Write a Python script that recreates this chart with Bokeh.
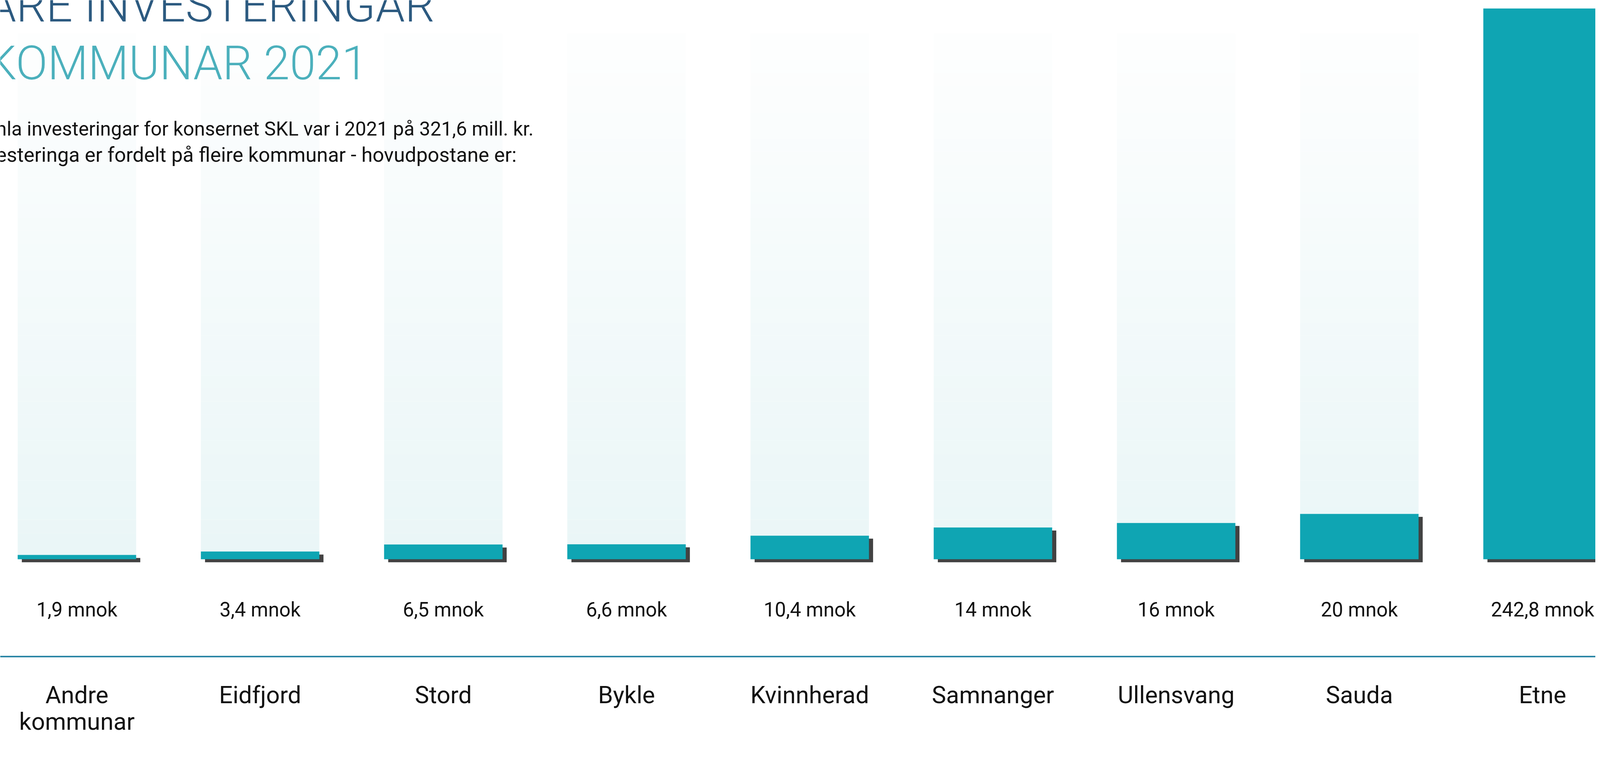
from bokeh.plotting import figure
from bokeh.models import Range1d, ColumnDataSource, Span
from bokeh.core.properties import value
from bokeh.embed import file_html
from bokeh.resources import INLINE

# ---------------- data ----------------
categories = ["Andre\nkommunar", "Eidfjord", "Stord", "Bykle", "Kvinnherad",
              "Samnanger", "Ullensvang", "Sauda", "Etne"]
values = [1.9, 3.4, 6.5, 6.6, 10.4, 14, 16, 20, 242.8]
value_labels = ["1,9 mnok", "3,4 mnok", "6,5 mnok", "6,6 mnok", "10,4 mnok",
                "14 mnok", "16 mnok", "20 mnok", "242,8 mnok"]
title_lines = ["ARE INVESTERINGAR", "KOMMUNAR 2021"]
subtitle_lines = ["nla investeringar for konsernet SKL var i 2021 på 321,6 mill. kr.",
                  "esteringa er fordelt på fleire kommunar - hovudpostane er:"]

# ---------------- layout helpers (picture pixels -> data units) ----------------
S = 1.042                       # picture px per CSS px (observed)
MARGIN = 8
W = round(4272 / S) - 2 * MARGIN
H = round(1971 / S) - 2 * MARGIN
SX = 488.7        # picture px per category step
X0_PX = 213.0     # picture px of first category centre
SY = 6.05         # picture px per mnok
ZERO_PX = 1499.5  # picture px of value 0


def dx(px):
    return (px - X0_PX) / SX


def dy(py):
    return (ZERO_PX - py) / SY


def fs(px):
    return "%.1fpx" % (px / S)


def ty(py, size):
    # baseline position, corrected for the renderer's text offset
    return dy(py - 0.22 * size)


p = figure(width=W, height=H, output_backend="svg", toolbar_location=None,
           x_range=Range1d(dx(MARGIN * S), dx((MARGIN + W) * S)),
           y_range=Range1d(dy((MARGIN + H) * S), dy(MARGIN * S)),
           min_border=0)
p.min_border_left = p.min_border_right = p.min_border_top = p.min_border_bottom = 0
p.axis.visible = False
p.grid.visible = False
p.outline_line_color = None
p.background_fill_color = "white"
p.border_fill_color = "white"

idx = list(range(len(categories)))
BAR_W = 316 / SX
TEAL = "#0fa5b3"
FONT = value("Roboto")
TITLE_FONT = value("Roboto Light, Roboto")

# ---------------- light gradient track bars ----------------
BG_TOP = dy(97)
N = 40
c0 = (0xEA, 0xF6, 0xF7)   # bottom
c1 = (0xFD, 0xFE, 0xFE)   # top
bx, bb, bt, bc = [], [], [], []
for k in range(N):
    f = k / (N - 1)
    col = "#%02x%02x%02x" % tuple(round(c0[j] + (c1[j] - c0[j]) * f) for j in range(3))
    for i in idx:
        bx.append(i)
        bb.append(BG_TOP * k / N)
        bt.append(BG_TOP * (k + 1) / N)
        bc.append(col)
p.vbar(x="x", bottom="b", top="t", width=BAR_W, fill_color="c", line_color=None,
       source=ColumnDataSource(dict(x=bx, b=bb, t=bt, c=bc)))

# ---------------- shadows ----------------
SH_DX = 11 / SX
SH_DY = 8 / SY
p.vbar(x=[i + SH_DX for i in idx], bottom=-SH_DY, top=[v - SH_DY for v in values],
       width=BAR_W, fill_color="#424242", line_color=None)

# ---------------- bars ----------------
p.vbar(x=idx, bottom=0, top=values, width=BAR_W, fill_color=TEAL, line_color=None)

# ---------------- value labels ----------------
VAL_FS = 53
p.text(x=idx, y=[ty(1645, VAL_FS)] * len(idx), text=value_labels, text_font=FONT,
       text_font_size=fs(VAL_FS), text_align="center", text_baseline="alphabetic",
       text_color="#111111")

# ---------------- rule ----------------
p.add_layout(Span(location=dy(1759), dimension="width", line_color="#1f7fa0",
                  line_width=4 / S))

# ---------------- category labels ----------------
CAT_FS = 64
lx, ly, lt = [], [], []
for i, c in zip(idx, categories):
    for j, line in enumerate(c.split("\n")):
        lx.append(i)
        ly.append(ty(1876 + 70 * j, CAT_FS))
        lt.append(line)
p.text(x=lx, y=ly, text=lt, text_font=FONT, text_font_size=fs(CAT_FS),
       text_align="center", text_baseline="alphabetic", text_color="#111111")

# ---------------- title & subtitle ----------------
TIT_FS = 125
p.text(x=[dx(-27)], y=[ty(50, TIT_FS)], text=[title_lines[0]], text_font=TITLE_FONT,
       text_font_size=fs(TIT_FS), text_align="left", text_baseline="alphabetic",
       text_color="#2c5a80")
p.text(x=[dx(-27)], y=[ty(204, TIT_FS)], text=[title_lines[1]], text_font=TITLE_FONT,
       text_font_size=fs(TIT_FS), text_align="left", text_baseline="alphabetic",
       text_color="#4bb0bc")
p.text(x=[dx(-3)], y=[ty(363, 52)], text=[subtitle_lines[0]],
       text_font=FONT, text_font_size=fs(52), text_align="left",
       text_baseline="alphabetic", text_color="#111111")
p.text(x=[dx(-3)], y=[ty(433, 54)], text=[subtitle_lines[1]],
       text_font=FONT, text_font_size=fs(54), text_align="left",
       text_baseline="alphabetic", text_color="#111111")

open("out.html", "w").write(file_html(p, INLINE))
